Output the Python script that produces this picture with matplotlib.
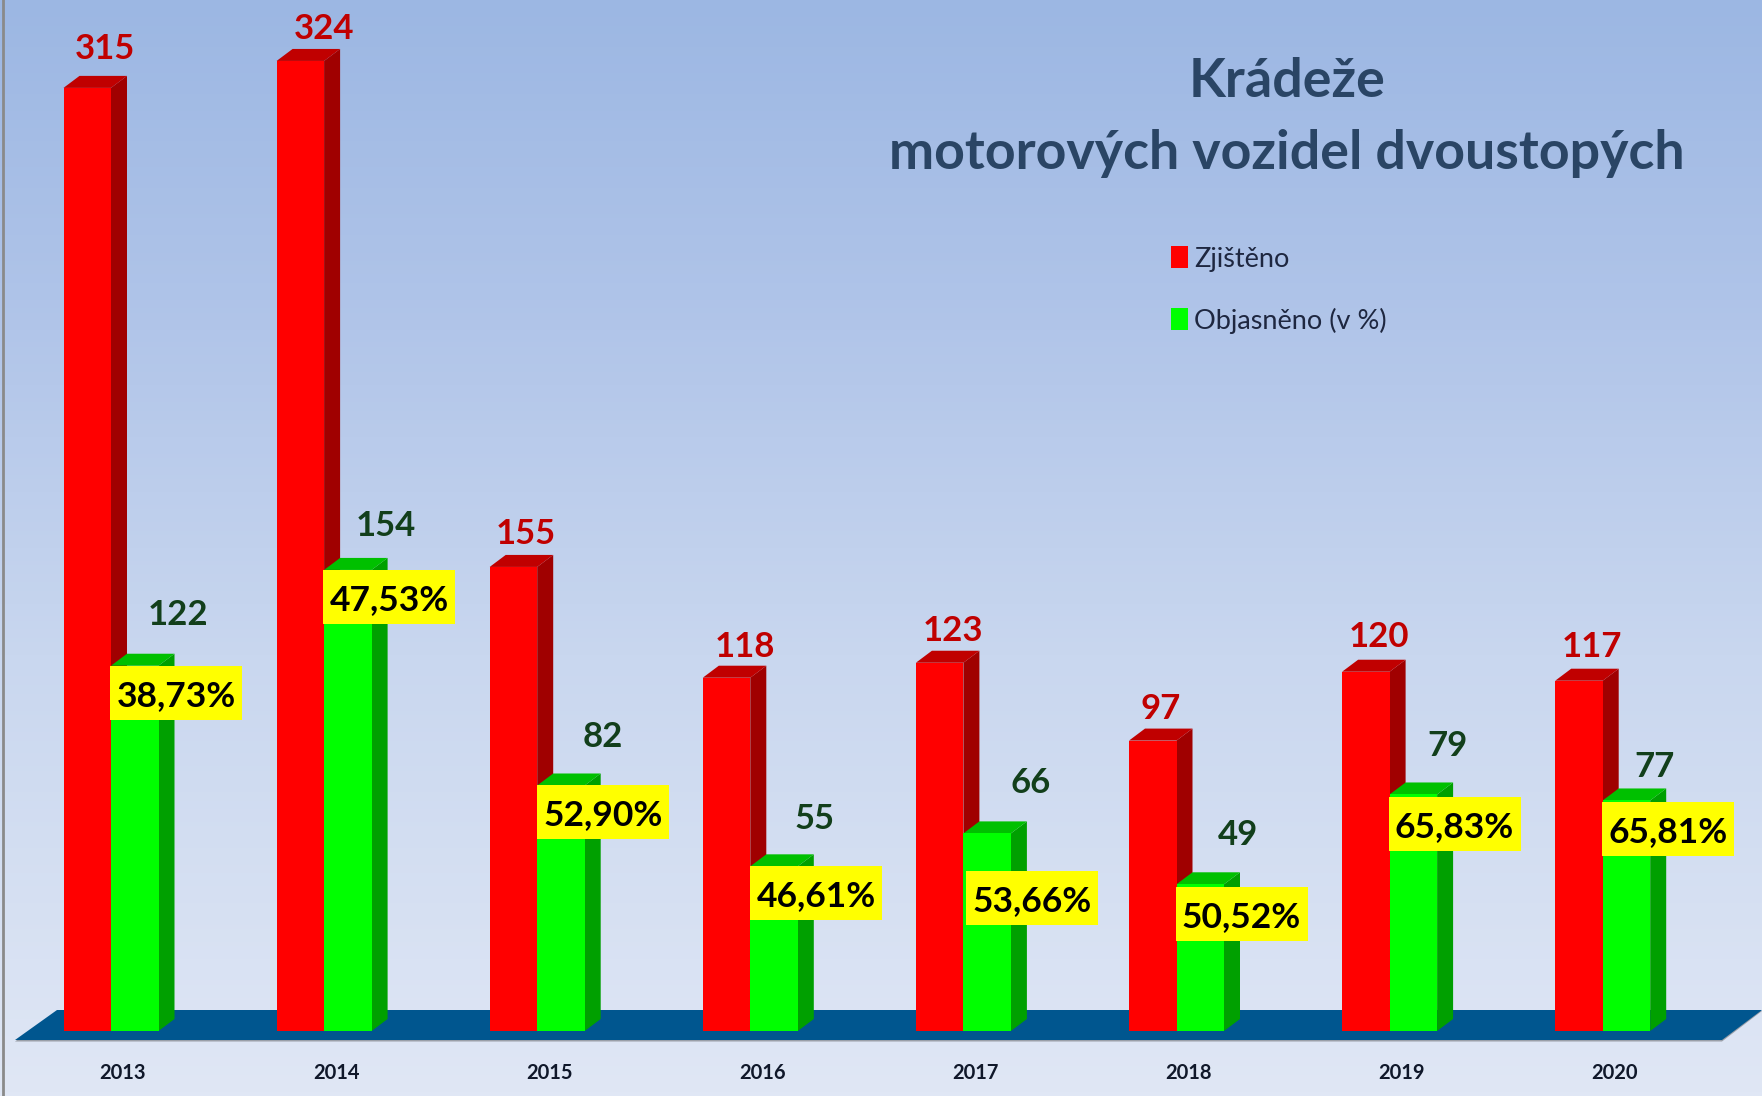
import numpy as np
import matplotlib
matplotlib.use("Agg")
import matplotlib.pyplot as plt
from matplotlib.colors import LinearSegmentedColormap
from matplotlib.patches import Patch, Polygon

# ---- data ----
years = ["2013", "2014", "2015", "2016", "2017", "2018", "2019", "2020"]
zjisteno = [315, 324, 155, 118, 123, 97, 120, 117]
objasneno = [122, 154, 82, 55, 66, 49, 79, 77]
procenta = ["38,73%", "47,53%", "52,90%", "46,61%", "53,66%", "50,52%", "65,83%", "65,81%"]
series_names = ["Zjištěno", "Objasněno (v %)"]
title_lines = ["Krádeže", "motorových vozidel dvoustopých"]

# ---- label offsets, in pixels relative to bar ----
red_dx = [18, 24, 12, 18, 13, 8, 13, 13]
red_dy = [39, 32, 33, 31, 32, 32, 35, 34]
green_dx = [43, 38, 42, 40, 43, 38, 34, 28]
green_dy = [51, 44, 48, 47, 50, 49, 48, 33]
box_dy = [0, 0, 0, 0, 38, 3, 3, 2]
box_dx = [0, 0, 1, 1, 4, 0, 0, 0]

W, H = 1762, 1096
GROUP_PX = 213.1
UNIT_PX = 2.994
X0_PX, Y0_PX = 111, 1031
BAR_PX = 47.5
DEPTH_X, DEPTH_Y = 16, 12

plt.rcParams["font.family"] = ["Lato", "DejaVu Sans"]
fig = plt.figure(figsize=(W / 100, H / 100), dpi=100)
ax = fig.add_axes([0, 0, 1, 1])
ax.set_xlim(-X0_PX / GROUP_PX, (W - X0_PX) / GROUP_PX)
ax.set_ylim(-(H - Y0_PX) / UNIT_PX, Y0_PX / UNIT_PX)
ax.axis("off")

px = 1 / GROUP_PX
py = 1 / UNIT_PX

# background gradient
cmap = LinearSegmentedColormap.from_list(
    "bg", [(0, "#9CB7E3"), (0.3, "#B1C5E9"), (0.6, "#C9D7EF"), (1, "#E0E7F5")])
ax.imshow(np.linspace(0, 1, 256)[:, None], extent=[*ax.get_xlim(), *ax.get_ylim()],
          cmap=cmap, aspect="auto", origin="upper", zorder=0)
ax.set_xlim(-X0_PX / GROUP_PX, (W - X0_PX) / GROUP_PX)
ax.set_ylim(-(H - Y0_PX) / UNIT_PX, Y0_PX / UNIT_PX)

# left border
ax.axvline((2.5 - X0_PX) * px, color="#8A8A8A", lw=2, zorder=1)

# floor
fl = (15 - X0_PX) * px
fr = (1722 - X0_PX) * px
bl = (57 - X0_PX) * px
br = (1762 - X0_PX) * px
fy = (Y0_PX - 1040) * py
by = (Y0_PX - 1010) * py
ax.add_patch(Polygon([(fl, fy - 1.5 * py), (fr, fy - 1.5 * py), (br, by - 1 * py), (bl, by - 1 * py)],
                     closed=True, fc="#9A9FA8", ec="none", zorder=1))
ax.add_patch(Polygon([(fl, fy), (fr, fy), (br, by), (bl, by)], closed=True, fc="#00568F", ec="none", zorder=2))

bw = BAR_PX * px
dx, dy = DEPTH_X * px, DEPTH_Y * py


def bar3d(xc, value, front, top, side, z):
    left, right = xc - bw / 2, xc + bw / 2
    ax.add_patch(Polygon([(right, 0), (right + dx, dy), (right + dx, value + dy), (right, value)],
                         closed=True, fc=side, ec="none", zorder=z))
    ax.add_patch(Polygon([(left, value), (right, value), (right + dx, value + dy), (left + dx, value + dy)],
                         closed=True, fc=top, ec="none", zorder=z))
    ax.bar(xc, value, width=bw, color=front, zorder=z + 0.1)


xs = np.arange(len(years))
for i, x in enumerate(xs):
    bar3d(x - bw / 2, zjisteno[i], "#FF0000", "#C00000", "#A00000", 3)
    bar3d(x + bw / 2, objasneno[i], "#00FF00", "#00C000", "#00A000", 4)

    ax.text(x - bw / 2 + red_dx[i] * px, zjisteno[i] + red_dy[i] * py, str(zjisteno[i]),
            color="#C00000", fontsize=25, fontweight="bold", ha="center", va="center", zorder=7)
    ax.text(x + bw / 2 + green_dx[i] * px, objasneno[i] + green_dy[i] * py, str(objasneno[i]),
            color="#123F1B", fontsize=25, fontweight="bold", ha="center", va="center", zorder=7)

    box_w, box_h = 132 * px, 54 * py
    bx0 = x + (box_dx[i] - 1) * px
    by1 = objasneno[i] - box_dy[i] * py
    ax.add_patch(Polygon([(bx0, by1), (bx0 + box_w, by1), (bx0 + box_w, by1 - box_h), (bx0, by1 - box_h)],
                         closed=True, fc="#FFFF00", ec="none", zorder=6))
    ax.text(bx0 + box_w / 2, by1 - box_h / 2 - 3 * py, procenta[i], color="black", fontsize=25.5,
            fontweight="bold", ha="center", va="center", zorder=7)

    ax.text(x + 12 * px, -42 * py, years[i], color="#10182A", fontsize=14.5,
            fontweight="bold", ha="center", va="center", zorder=7)

# title
title_x = (1287 - X0_PX) * px
ax.text(title_x, (Y0_PX - 82) * py, title_lines[0], color="#2A4565", fontsize=38.7,
        fontweight="bold", ha="center", va="center", zorder=7)
ax.text(title_x, (Y0_PX - 153) * py, title_lines[1], color="#2A4565", fontsize=38.7,
        fontweight="bold", ha="center", va="center", zorder=7)

# legend
handles = [Patch(fc="#FF0000", ec="none"), Patch(fc="#00FF00", ec="none")]
leg = ax.legend(handles, series_names, loc="upper left", bbox_to_anchor=(1162 / W, 1 - 237 / H),
                frameon=False, fontsize=19.5, labelcolor="#1E2740", handlelength=0.62, handleheight=0.85,
                handletextpad=0.22, labelspacing=1.32, borderpad=0.35, borderaxespad=0)
leg.set_zorder(7)

fig.savefig("out.png", dpi=100)
